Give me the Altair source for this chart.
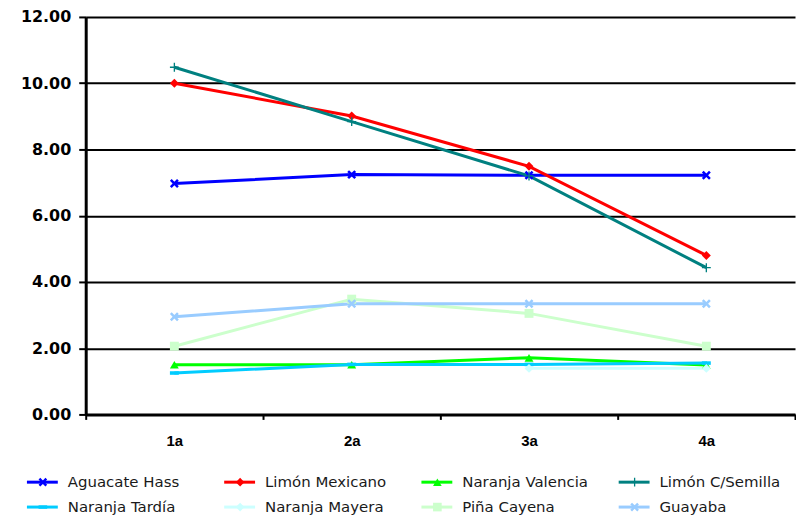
import altair as alt
import pandas as pd

categories = ["1a", "2a", "3a", "4a"]
series = ["Aguacate Hass", "Limón Mexicano", "Naranja Valencia", "Limón C/Semilla",
          "Naranja Tardía", "Naranja Mayera", "Piña Cayena", "Guayaba"]

aguacate_hass = [6.97, 7.24, 7.22, 7.22]
limon_mexicano = [10.00, 9.01, 7.49, 4.80]
naranja_valencia = [1.50, 1.50, 1.71, 1.49]
limon_semilla = [10.48, 8.84, 7.20, 4.43]
naranja_tardia = [1.25, 1.51, 1.51, 1.55]
naranja_mayera = [None, None, 1.39, 1.39]
pina_cayena = [2.06, 3.48, 3.05, 2.06]
guayaba = [2.95, 3.34, 3.34, 3.34]

colors = ["#0000FF", "#FF0000", "#00FF00", "#008080",
          "#00CCFF", "#CCFFFF", "#CCFFCC", "#99CCFF"]

X_PATH = "M-1,-0.6L-0.6,-1L0,-0.4L0.6,-1L1,-0.6L0.4,0L1,0.6L0.6,1L0,0.4L-0.6,1L-1,0.6L-0.4,0Z"
PLUS_PATH = "M-0.15,-1H0.15V-0.15H1V0.15H0.15V1H-0.15V0.15H-1V-0.15H-0.15Z"
DASH_PATH = "M-1,-0.4H1V0.4H-1Z"
shapes = [X_PATH, "diamond", "triangle-up", PLUS_PATH, DASH_PATH, "diamond", "square", X_PATH]

all_values = [aguacate_hass, limon_mexicano, naranja_valencia, limon_semilla,
              naranja_tardia, naranja_mayera, pina_cayena, guayaba]

rows = []
for i, (name, vals) in enumerate(zip(series, all_values)):
    for c, v in zip(categories, vals):
        if v is not None:
            rows.append({"serie": name, "anio": c, "valor": v, "orden": i})
df = pd.DataFrame(rows)

# legend layout (4 columns x 2 rows)
leg_rows = []
for i, name in enumerate(series):
    col = i % 4
    row = i // 4
    x0 = -59 + col * 198
    y0 = -68 - row * 25
    leg_rows.append({"serie": name, "x0": x0, "x1": x0 + 31, "xm": x0 + 16,
                     "xt": x0 + 41, "y": y0})
leg = pd.DataFrame(leg_rows)

W, H = 712, 399

color_scale = alt.Scale(domain=series, range=colors)
shape_scale = alt.Scale(domain=series, range=shapes)

x_enc = alt.X("anio:N", sort=categories,
              scale=alt.Scale(type="band", domain=categories, paddingInner=0, paddingOuter=0),
              axis=alt.Axis(title=None, labelAngle=0, tickBand="extent", tickSize=5,
                            tickColor="black", tickWidth=2, domainColor="black", domainWidth=3,
                            labelFont="Liberation Sans", labelFontWeight="bold",
                            labelFontSize=15, labelColor="black", labelPadding=14, grid=False))
y_enc = alt.Y("valor:Q",
              scale=alt.Scale(domain=[0, 12], nice=False, zero=True),
              axis=alt.Axis(title=None, values=[0, 2, 4, 6, 8, 10, 12], format=".2f",
                            grid=True, gridColor="black", gridWidth=2,
                            domainColor="black", domainWidth=3,
                            tickColor="black", tickWidth=2, tickSize=7,
                            labelFont="DejaVu Sans", labelFontWeight="bold",
                            labelFontSize=16, labelColor="black", labelPadding=8))

base = alt.Chart(df).encode(
    x=x_enc, y=y_enc,
    color=alt.Color("serie:N", scale=color_scale, legend=None),
)
lines = base.mark_line(strokeWidth=3).encode(detail="serie:N")
points = base.mark_point(filled=True, size=80, opacity=1).encode(
    shape=alt.Shape("serie:N", scale=shape_scale, legend=None)
)
main = alt.layer(lines, points)

lx = alt.Scale(domain=[0, W], nice=False, zero=False)
ly = alt.Scale(domain=[0, H], nice=False, zero=False)
lbase = alt.Chart(leg)
leg_line = lbase.mark_rule(strokeWidth=3).encode(
    x=alt.X("x0:Q", scale=lx, axis=None), x2="x1:Q",
    y=alt.Y("y:Q", scale=ly, axis=None),
    color=alt.Color("serie:N", scale=color_scale, legend=None),
)
leg_pt = lbase.mark_point(filled=True, size=75, opacity=1).encode(
    x=alt.X("xm:Q", scale=lx, axis=None),
    y=alt.Y("y:Q", scale=ly, axis=None),
    color=alt.Color("serie:N", scale=color_scale, legend=None),
    shape=alt.Shape("serie:N", scale=shape_scale, legend=None),
)
leg_txt = lbase.mark_text(align="left", baseline="middle", font="DejaVu Sans",
                          fontSize=15, color="#1a1a1a").encode(
    x=alt.X("xt:Q", scale=lx, axis=None),
    y=alt.Y("y:Q", scale=ly, axis=None),
    text="serie:N",
)
legend = alt.layer(leg_line, leg_pt, leg_txt)

chart = alt.layer(main, legend).resolve_scale(
    x="independent", y="independent", color="independent", shape="independent"
).properties(
    width=W, height=H,
    padding={"left": 12, "top": 0, "right": 0, "bottom": 0},
    background="white",
).configure_view(stroke=None)

chart.save("out.html", embed_options={"renderer": "svg", "actions": False})
